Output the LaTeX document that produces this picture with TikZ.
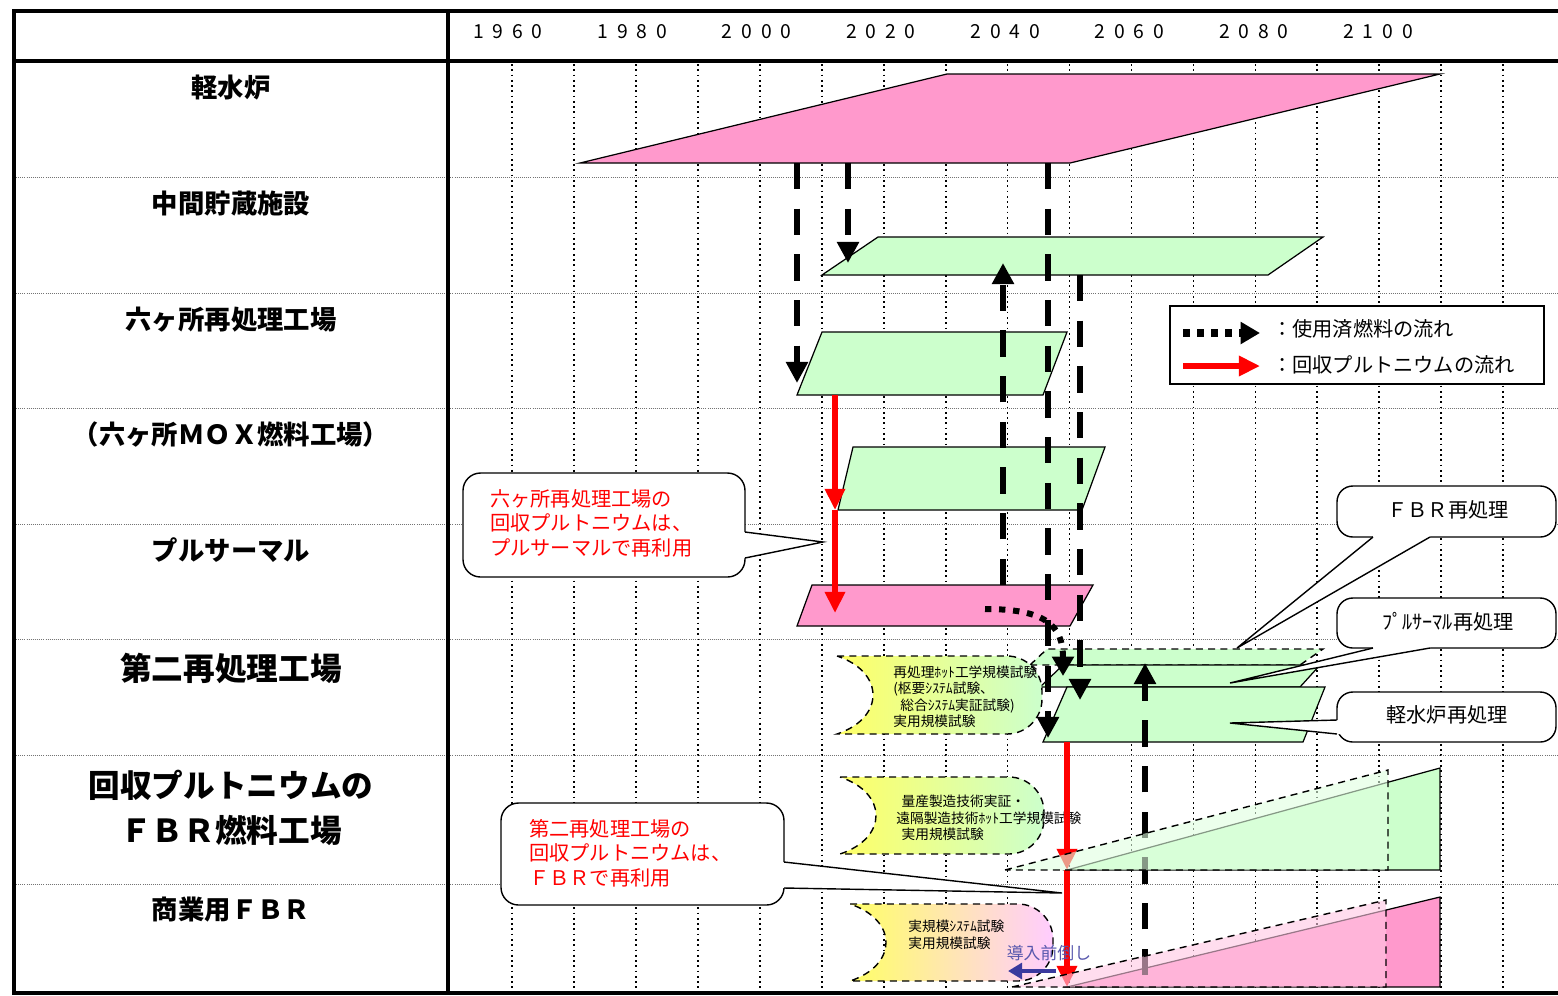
\documentclass[tikz,border=0pt]{standalone}
\usepackage{fontspec}
\setmainfont{Noto Sans CJK JP}
\usetikzlibrary{arrows.meta}

\definecolor{lwrpink}{HTML}{FF99CC}
\definecolor{plantgreen}{HTML}{CCFFCC}
\definecolor{testyellow}{HTML}{FFFF66}
\definecolor{testpink}{HTML}{FFCCFF}
\definecolor{shiftblue}{HTML}{3A3A9E}

\newcommand{\spreaddigits}[4]{#1\hspace{5pt}#2\hspace{5pt}#3\hspace{5pt}#4}

\tikzset{
  rowlab/.style={font=\fontsize{15}{18}\selectfont\bfseries},
  rowbig/.style={font=\fontsize{18}{25.5}\selectfont\bfseries, align=center},
  yearlab/.style={font=\fontsize{11}{13}\selectfont},
  gridv/.style={line width=1pt, dash pattern=on 1pt off 2pt},
  gridh/.style={line width=0.5pt, black!55, dash pattern=on 0.5pt off 0.7pt},
  plant/.style={draw, line width=0.7pt},
  plan/.style={draw, line width=0.8pt, dash pattern=on 4pt off 3pt},
  spent/.style={line width=3.4pt, dash pattern=on 15pt off 11pt, -{Triangle[width=12pt,length=12pt]}},
  pureuse/.style={red, line width=3pt, -{Triangle[width=11pt,length=12pt]}},
  testbox/.style={draw, line width=0.8pt, dash pattern=on 4pt off 3pt},
  testtxt/.style={font=\fontsize{7.8}{9.4}\selectfont, align=left, anchor=west, inner sep=0pt},
  bubble/.style={draw, fill=white, line width=0.8pt},
  redtxt/.style={red, font=\fontsize{11.5}{13.9}\selectfont, align=left, anchor=west, inner sep=0pt},
  tagtxt/.style={font=\fontsize{11.5}{14}\selectfont},
}

\begin{document}
\begin{tikzpicture}[x=0.02cm, y=-0.02cm]

\useasboundingbox (0,0) rectangle (1558,995);

% 1. Grid lines
\foreach \i in {0,...,16}
    \draw[gridv] (512+61.95*\i,64) -- (512+61.95*\i,991);
\foreach \r in {177,293,408,524,639,755,884}
    \draw[gridh] (16,\r) -- (1558,\r);

% 2. Table frame
\draw[line width=2.8pt] (12,11) -- (1558,11);
\draw[line width=2.8pt] (12,61) -- (1558,61);
\draw[line width=2.4pt] (14,9) -- (14,994);
\draw[line width=2.8pt] (448,9) -- (448,994);
\draw[line width=1.8pt] (12,993) -- (1558,993);

% 3. Years
\foreach \a/\b/\c/\d [count=\i from 0] in {1/9/6/0,1/9/8/0,2/0/0/0,2/0/2/0,2/0/4/0,2/0/6/0,2/0/8/0,2/1/0/0}
    \node[yearlab] (yr\i) at (508+124.3*\i,32) {\spreaddigits{\a}{\b}{\c}{\d}};

% 4. Row labels
\node[rowlab] (lwr) at (231,88) {軽水炉};
\node[rowlab] (store) at (231,204) {中間貯蔵施設};
\node[rowlab] (rokka) at (231,320) {六ヶ所再処理工場};
\node[rowlab] (mox) at (231,435) {（六ヶ所ＭＯＸ燃料工場）};
\node[rowlab] (pluth) at (231,550) {プルサーマル};
\node[rowbig] (second) at (231,668) {第二再処理工場};
\node[rowbig] (fbrfuel) at (231,808) {回収プルトニウムの\\ＦＢＲ燃料工場};
\node[rowlab] (fbr) at (231,910) {商業用ＦＢＲ};

% 5. Facility shapes
\draw[plant, fill=lwrpink] (580,163) -- (947,74) -- (1440,74) -- (1070,163) -- cycle;
\draw[plant, fill=plantgreen] (822,275) -- (878,237) -- (1323,237) -- (1268,275) -- cycle;
\draw[plant, fill=plantgreen] (797,395) -- (822,332) -- (1067,332) -- (1043,395) -- cycle;
\draw[plant, fill=plantgreen] (838,510) -- (853,447) -- (1105,447) -- (1082,510) -- cycle;
\draw[plant, fill=lwrpink] (797,626) -- (812,585) -- (1093,585) -- (1070,626) -- cycle;

% second plant: FBR / pluthermal / LWR layers
\draw[plan, fill=plantgreen] (1030,665) -- (1047,649) -- (1323,649) -- (1300,665) -- cycle;
\draw[plant, fill=plantgreen] (1040,687) -- (1063,665) -- (1320,665) -- (1300,687) -- cycle;
\draw[plant, fill=plantgreen] (1043,742) -- (1067,687) -- (1325,687) -- (1303,742) -- cycle;

% FBR fuel plant and commercial FBR
\draw[plant, fill=plantgreen] (1067,870) -- (1440,768) -- (1440,870) -- cycle;
\draw[plant, fill=lwrpink] (1067,987) -- (1440,897) -- (1440,987) -- cycle;

% 6. Test stages
\path[testbox, left color=testyellow, right color=plantgreen]
    (837,656) [rounded corners=20pt] -- (1042,656) -- (1042,734)
    [sharp corners] -- (837,734) .. controls (885,718) and (885,672) .. cycle;
\path[testbox, left color=testyellow, right color=plantgreen]
    (840,777) [rounded corners=20pt] -- (1044,777) -- (1044,854)
    [sharp corners] -- (840,854) .. controls (888,838) and (888,793) .. cycle;
\path[testbox, left color=testyellow, right color=testpink]
    (850,904) [rounded corners=20pt] -- (1053,904) -- (1053,981)
    [sharp corners] -- (850,981) .. controls (898,965) and (898,920) .. cycle;

\node[testtxt] (hotrep) at (893,697) {再処理ﾎｯﾄ工学規模試験\\(枢要ｼｽﾃﾑ試験、\\\hspace{4pt}総合ｼｽﾃﾑ実証試験)\\実用規模試験};
\node[testtxt] (massfab) at (896,818) {\hspace{3pt}量産製造技術実証・\\遠隔製造技術ﾎｯﾄ工学規模試験\\\hspace{3pt}実用規模試験};
\node[testtxt] (fullsys) at (908,935) {実規模ｼｽﾃﾑ試験\\実用規模試験};

% 7. Spent fuel flow
\coordinate (lwrA) at (797,163);
\coordinate (lwrB) at (848,163);
\coordinate (lwrC) at (1048,163);
\coordinate (rokIn) at (797,383);
\coordinate (storeIn) at (848,263);
\coordinate (storeUp) at (1003,263);
\coordinate (pluA) at (1003,585);
\coordinate (storeOut) at (1080,275);
\coordinate (secLwr) at (1048,738);
\coordinate (secPlu) at (1080,700);
\coordinate (fbrA) at (1145,975);
\coordinate (secFbr) at (1145,663);
\coordinate (pluB) at (985,609);
\coordinate (secMox) at (1063,676);

\draw[spent] (lwrA) -- (rokIn);
\draw[spent] (lwrB) -- (storeIn);
\draw[spent] (pluA) -- (storeUp);
\draw[spent] (lwrC) -- (secLwr);
\draw[spent] (storeOut) -- (secPlu);
\draw[spent] (fbrA) -- (secFbr);
\draw[line width=3.4pt, dash pattern=on 3.6pt off 4.4pt, -{Triangle[width=12pt,length=11pt]}]
    (pluB) .. controls (1045,609) and (1063,625) .. (secMox);

% 8. Recovered plutonium flow
\coordinate (rokOut) at (835,395);
\coordinate (moxIn) at (835,510);
\coordinate (pluIn) at (835,613);
\coordinate (secOut) at (1067,742);
\coordinate (fuelIn) at (1067,870);
\coordinate (fbrIn) at (1067,987);

\draw[pureuse] (rokOut) -- (moxIn);
\draw[pureuse] (moxIn) -- (pluIn);
\draw[pureuse] (secOut) -- (fuelIn);
\draw[pureuse] (fuelIn) -- (fbrIn);

% 9. Earlier introduction (planned, hatched)
\draw[plan, fill=plantgreen!60!white, fill opacity=0.6] (1005,870) -- (1388,770) -- (1388,870) -- cycle;
\draw[plan, fill=lwrpink!55!white, fill opacity=0.6] (1012,987) -- (1386,900) -- (1386,987) -- cycle;

\coordinate (shiftA) at (1056,971);
\coordinate (shiftB) at (1008,971);
\draw[shiftblue, line width=2.3pt, -{Triangle[width=9pt,length=8pt]}] (shiftA) -- (shiftB);
\node[shiftblue!85!white, font=\fontsize{9.6}{11}\selectfont] (shift) at (1049,953) {導入前倒し};

% 10. Callouts
\draw[bubble, rounded corners=10pt] (463,473) rectangle (745,577);
\fill[white] (823,542) -- (745,558) -- (742,558) -- (742,532) -- (745,532) -- cycle;
\draw[line width=0.8pt] (745,532) -- (823,542) -- (745,558);
\node[redtxt] (rokNote) at (490,523) {六ヶ所再処理工場の\\回収プルトニウムは、\\プルサーマルで再利用};

\draw[bubble, rounded corners=10pt] (501,803) rectangle (784,905);
\fill[white] (1062,893) -- (784,888) -- (781,888) -- (781,862) -- (784,862) -- cycle;
\draw[line width=0.8pt] (784,862) -- (1062,893) -- (784,888);
\node[redtxt] (secNote) at (529,853) {第二再処理工場の\\回収プルトニウムは、\\ＦＢＲで再利用};

\draw[bubble, rounded corners=9pt] (1337,486) rectangle (1556,537);
\fill[white] (1237,648) -- (1373,537) -- (1373,534) -- (1430,534) -- (1430,537) -- cycle;
\draw[line width=0.8pt] (1373,537) -- (1237,648) -- (1430,537);
\node[tagtxt] (fbrRep) at (1448,510) {ＦＢＲ再処理};

\draw[bubble, rounded corners=9pt] (1337,598) rectangle (1556,648);
\fill[white] (1230,683) -- (1373,648) -- (1373,645) -- (1430,645) -- (1430,648) -- cycle;
\draw[line width=0.8pt] (1373,648) -- (1230,683) -- (1430,648);
\node[tagtxt] (pluRep) at (1448,622) {ﾌﾟﾙｻｰﾏﾙ再処理};

\draw[bubble, rounded corners=9pt] (1337,692) rectangle (1556,742);
\fill[white] (1230,723) -- (1337,720) -- (1340,720) -- (1340,734) -- (1337,734) -- cycle;
\draw[line width=0.8pt] (1337,720) -- (1230,723) -- (1337,734);
\node[tagtxt] (lwrRep) at (1447,715) {軽水炉再処理};

% 11. Legend
\draw[line width=1pt, fill=white] (1170,306) rectangle (1544,384);
\coordinate (legA) at (1183,333);
\coordinate (legB) at (1260,333);
\coordinate (legC) at (1183,366);
\coordinate (legD) at (1260,366);
\draw[line width=4pt, dash pattern=on 4pt off 4pt, -{Triangle[width=12pt,length=11pt]}] (legA) -- (legB);
\draw[pureuse] (legC) -- (legD);
\node[tagtxt, anchor=west] (legSpent) at (1266,329) {：使用済燃料の流れ};
\node[tagtxt, anchor=west] (legPu) at (1266,365) {：回収プルトニウムの流れ};

\end{tikzpicture}
\end{document}
